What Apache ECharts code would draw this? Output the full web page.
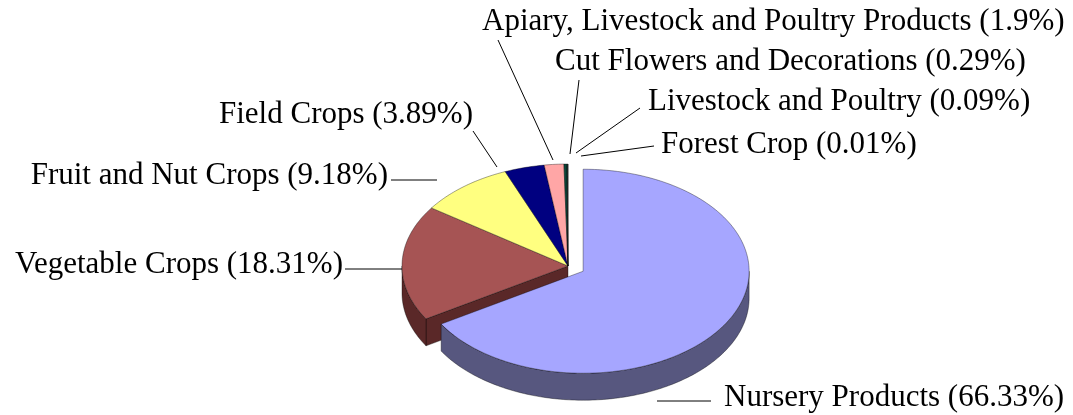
<!DOCTYPE html>
<html>
<head>
<meta charset="UTF-8">
<title>Agricultural Sales Share</title>
<style type="text/css">
	html,body{margin:0;padding:0;background:#fff;}
	#main{width:1073px;height:415px;}
</style>
</head>
<body>
<div id="main"></div>
<script src="https://cdn.jsdelivr.net/npm/echarts@6/dist/echarts.min.js"></script>
<script type="text/javascript">
var categories = ['Nursery Products', 'Vegetable Crops', 'Fruit and Nut Crops', 'Field Crops',
	'Apiary, Livestock and Poultry Products', 'Cut Flowers and Decorations', 'Livestock and Poultry', 'Forest Crop'];
var shares = [66.33, 18.31, 9.18, 3.89, 1.9, 0.29, 0.09, 0.01];
var explodedSlice = 0;

var topColors = ['#a6a6ff', '#a65454', '#ffff80', '#000080', '#ffa6a6', '#0b4438', '#204040', '#606060'];
var sideColors = ['#57577f', '#5a2828', '#80803f', '#000040', '#805252', '#06221c', '#102020', '#303030'];
// text x, text y, align, leader x1, y1, x2, y2
var labelLayout = [
	[724, 398, 'left', 657, 401, 711, 401],
	[343, 265, 'right', 345, 269, 402, 269],
	[388, 176, 'right', 391, 180, 437, 180],
	[473, 115, 'right', 473, 131, 497, 167],
	[482, 22, 'left', 498, 40, 553, 160],
	[555, 62, 'left', 579, 80, 570, 154],
	[648, 102, 'left', 640, 108, 576, 153],
	[661, 145, 'left', 654, 146, 581, 156]
];

var cx = 568, cy = 266, rx = 166, ry = 102, depth = 27, explodeDist = 16;

var total = 0;
shares.forEach(function(v){ total += v; });
var startAng = [], endAng = [];
var acc = 0;
for (var i = 0; i < shares.length; i++) {
	startAng.push(acc / total * Math.PI * 2);
	acc += shares[i];
	endAng.push(acc / total * Math.PI * 2);
}

function pt(t, ox, oy, dz){
	return [ox + rx * Math.sin(t), oy - ry * Math.cos(t) + dz];
}
function arc(t1, t2, ox, oy, dz){
	var n = Math.max(2, Math.ceil((t2 - t1) / (Math.PI / 180)) + 1);
	var pts = [];
	for (var k = 0; k < n; k++) {
		pts.push(pt(t1 + (t2 - t1) * k / (n - 1), ox, oy, dz));
	}
	return pts;
}

function renderItem(params, api){
	var i = params.dataIndex;
	var n = shares.length;
	var t1 = startAng[i], t2 = endAng[i];
	var ox = cx, oy = cy;
	if (i === explodedSlice) {
		var mid = (t1 + t2) / 2;
		var ex = Math.sin(mid) * rx, ey = -Math.cos(mid) * ry;
		var len = Math.sqrt(ex * ex + ey * ey);
		ox += ex / len * explodeDist;
		oy += ey / len * explodeDist;
	}
	var children = [];
	var edge = 'rgba(0,0,0,0.45)';
	// radial faces only show where the exploded slice leaves a gap
	var gapBefore = i === explodedSlice || (i - 1 + n) % n === explodedSlice;
	var gapAfter = i === explodedSlice || (i + 1) % n === explodedSlice;
	if (gapBefore && Math.sin(t1) < -1e-6) {
		var p = pt(t1, ox, oy, 0);
		children.push({type: 'polygon', z2: 1,
			shape: {points: [[ox, oy], p, [p[0], p[1] + depth], [ox, oy + depth]]},
			style: {fill: sideColors[i], stroke: edge, lineWidth: 0.8}});
	}
	if (gapAfter && Math.sin(t2) > 1e-6) {
		var q = pt(t2, ox, oy, 0);
		children.push({type: 'polygon', z2: 1,
			shape: {points: [[ox, oy], q, [q[0], q[1] + depth], [ox, oy + depth]]},
			style: {fill: sideColors[i], stroke: edge, lineWidth: 0.8}});
	}
	// outer wall, front half only
	var s = Math.max(t1, Math.PI / 2), e = Math.min(t2, Math.PI * 1.5);
	if (e > s) {
		var wall = arc(s, e, ox, oy, 0).concat(arc(s, e, ox, oy, depth).reverse());
		children.push({type: 'polygon', z2: 2,
			shape: {points: wall},
			style: {fill: sideColors[i], stroke: edge, lineWidth: 0.8}});
	}
	// top face
	children.push({type: 'polygon', z2: 3,
		shape: {points: [[ox, oy]].concat(arc(t1, t2, ox, oy, 0))},
		style: {fill: topColors[i], stroke: edge, lineWidth: 0.8}});
	// label and leader
	var L = labelLayout[i];
	children.push({type: 'line', z2: 4,
		shape: {x1: L[3], y1: L[4], x2: L[5], y2: L[6]},
		style: {stroke: '#000', lineWidth: 1}});
	children.push({type: 'text', z2: 5, x: L[0], y: L[1],
		style: {text: categories[i] + ' (' + api.value(0) + '%)', fill: '#000',
			font: '31px "Liberation Serif"', align: L[2], verticalAlign: 'middle'}});
	return {type: 'group', children: children};
}

var myChart = echarts.init(document.getElementById('main'));
var option = {
	animation: false,
	series: [{
		type: 'custom',
		coordinateSystem: 'none',
		renderItem: renderItem,
		data: shares.map(function(v){ return [v]; })
	}]
};
myChart.setOption(option);
</script>
</body>
</html>
